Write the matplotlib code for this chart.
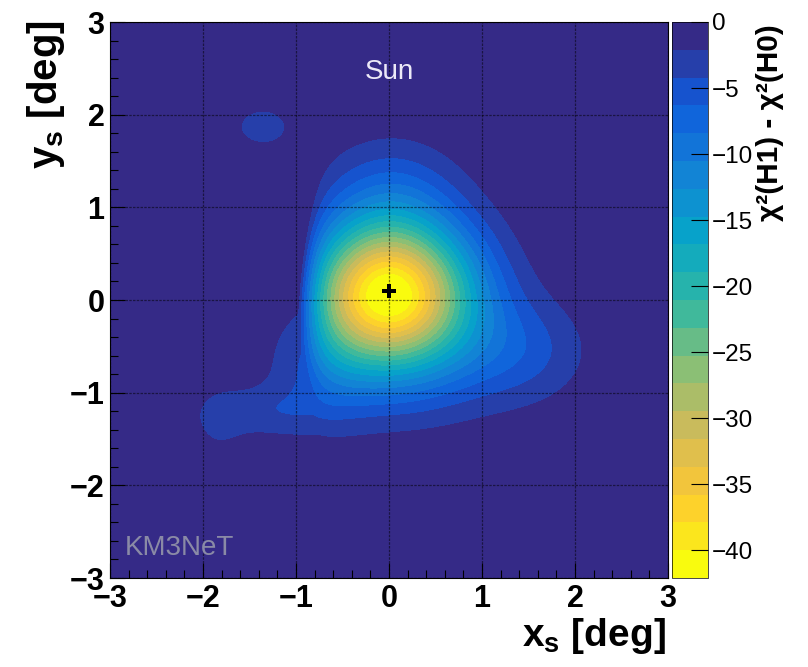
import numpy as np
import matplotlib
matplotlib.use('Agg')
import matplotlib.pyplot as plt
from matplotlib.colors import LinearSegmentedColormap, ListedColormap, BoundaryNorm
from matplotlib.ticker import AutoMinorLocator, MultipleLocator

plt.rcParams['font.family'] = ['Liberation Sans', 'DejaVu Sans']
plt.rcParams['mathtext.fontset'] = 'custom'
plt.rcParams['mathtext.rm'] = 'Liberation Sans'
plt.rcParams['mathtext.bf'] = 'Liberation Sans:bold'
plt.rcParams['mathtext.it'] = 'Liberation Sans:italic'

# z range of the map and number of filled contours
z_min = -42.1
n_levels = 20
cbar_ticks = [0, -5, -10, -15, -20, -25, -30, -35, -40]

# gaussian core of the chi2 difference around the fitted position
core_x, core_y = 0.0, 0.08
core_amp = 41.0
core_sx, core_sy = 0.62, 0.54

# steep fall-off on the left side of the core
cut_x, cut_y = -1.22, 0.2
cut_amp = 20.0
cut_sx, cut_sy = 0.24, 0.75

# broad shells (upper, right, bottom, lower left, tail, tail end, spot)
shell_amp = [5.0, 3.8, 4.5, 3.5, 3.0, 1.9, 3.1]
shell_x = [0.03, 1.45, 0.2, -0.7, -1.35, -1.84, -1.36]
shell_y = [1.1, -0.55, -0.6, -0.75, -1.21, -1.33, 1.87]
shell_sx = [0.5, 0.5, 0.8, 0.38, 0.45, 0.2, 0.26]
shell_sy = [0.45, 0.4, 0.5, 0.45, 0.2, 0.28, 0.19]

# best fit position
sun_x, sun_y = 0.0, 0.1

# ROOT kBird palette
bird_r = [0.2082, 0.0592, 0.0780, 0.0232, 0.1802, 0.5301, 0.8186, 0.9956, 0.9764]
bird_g = [0.1664, 0.3599, 0.5041, 0.6419, 0.7178, 0.7492, 0.7328, 0.7862, 0.9832]
bird_b = [0.5293, 0.8684, 0.8385, 0.7914, 0.6425, 0.4662, 0.3499, 0.1968, 0.0539]


def gauss(X, Y, a, x0, y0, sx, sy):
    return a * np.exp(-0.5 * (((X - x0) / sx) ** 2 + ((Y - y0) / sy) ** 2))


def chi2_map(X, Y):
    depth = gauss(X, Y, core_amp, core_x, core_y, core_sx, core_sy)
    depth -= gauss(X, Y, cut_amp, cut_x, cut_y, cut_sx, cut_sy)
    depth = np.clip(depth, 0, None)
    for a, x0, y0, sx, sy in zip(shell_amp, shell_x, shell_y, shell_sx, shell_sy):
        depth += gauss(X, Y, a, x0, y0, sx, sy)
    return np.maximum(-depth, z_min)


x = np.linspace(-3, 3, 401)
y = np.linspace(-3, 3, 401)
X, Y = np.meshgrid(x, y)
Z = chi2_map(X, Y)

bird = LinearSegmentedColormap.from_list('bird', list(zip(np.linspace(0, 1, 9),
                                                         zip(bird_r, bird_g, bird_b))))
band_colors = [bird(1 - i / (n_levels - 1)) for i in range(n_levels)]
cmap = ListedColormap(band_colors)
levels = np.linspace(z_min, 0, n_levels + 1)
norm = BoundaryNorm(levels, n_levels)

fig = plt.figure(figsize=(8.08, 6.67), dpi=100)
ax = fig.add_axes([110 / 808, 89 / 667, 558 / 808, 556 / 667])
cax = fig.add_axes([672 / 808, 89 / 667, 36 / 808, 556 / 667])

cs = ax.contourf(X, Y, Z, levels=levels, cmap=cmap, norm=norm, antialiased=False)
ax.plot(sun_x, sun_y, marker='P', color='black', markersize=10, markeredgewidth=0)

ax.set_xlim(-3, 3)
ax.set_ylim(-3, 3)
ax.xaxis.set_major_locator(MultipleLocator(1))
ax.yaxis.set_major_locator(MultipleLocator(1))
ax.xaxis.set_minor_locator(AutoMinorLocator(5))
ax.yaxis.set_minor_locator(AutoMinorLocator(5))
ax.tick_params(which='both', direction='in', top=False, right=False, color='black')
ax.tick_params(which='major', length=11, width=0.8)
ax.tick_params(which='minor', length=5.5, width=0.8)
ax.tick_params(axis='x', which='major', pad=4, labelsize=22)
ax.tick_params(axis='y', which='major', pad=4, labelsize=22)
for lab in ax.get_xticklabels() + ax.get_yticklabels():
    lab.set_fontweight('bold')
ax.grid(True, which='major', color='black', linestyle=(0, (2, 1)), linewidth=0.9, alpha=0.5)
ax.set_axisbelow(False)
for sp in ax.spines.values():
    sp.set_linewidth(0.8)

ax.text(0, 2.46, 'Sun', color='#ece9f7', fontsize=20, ha='center', va='center')
ax.text(-2.84, -2.68, 'KM3NeT', color='#8a8aa6', fontsize=20, ha='left', va='center')

fig.text(666 / 808, 1 - 636 / 667, r'$\mathbf{x_{s}\ [deg]}$', fontsize=28,
         ha='right', va='center')
fig.text(46 / 808, 1 - 20 / 667, r'$\mathbf{y_{s}\ [deg]}$', fontsize=29,
         ha='center', va='top', rotation=90)

cb = fig.colorbar(cs, cax=cax, ticks=cbar_ticks)
cb.outline.set_linewidth(0.5)
cax.tick_params(direction='in', length=12, width=0.8, labelsize=17.5, pad=3)
cax.yaxis.set_ticks_position('right')
cax.minorticks_off()
fig.text(770 / 808, 1 - 24 / 667, 'χ²(H1) - χ²(H0)', fontsize=21.5, fontweight='bold',
         ha='center', va='top', rotation=90)

fig.savefig('out.png', dpi=100)
